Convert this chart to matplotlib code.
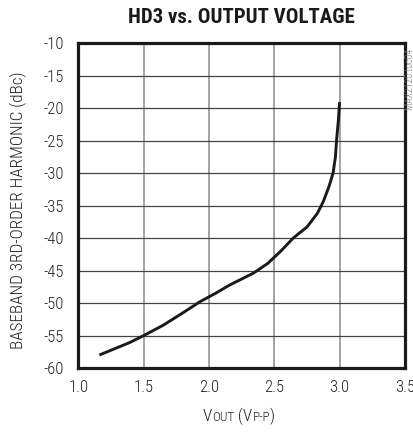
import matplotlib
matplotlib.use("Agg")
import matplotlib.pyplot as plt

FONT = ['Roboto Condensed', 'Archivo Narrow', 'DejaVu Sans']
TITLE_FONT = ['Roboto Condensed', 'Barlow Condensed', 'DejaVu Sans']
plt.rcParams['font.family'] = FONT
plt.rcParams['font.weight'] = 300

# data
vout = [1.16, 1.28, 1.39, 1.50, 1.65, 1.80, 1.93, 2.05, 2.16, 2.34, 2.45,
        2.55, 2.645, 2.75, 2.83, 2.875, 2.92, 2.95, 2.968, 2.977, 2.99, 3.0]
hd3 = [-58.0, -57.0, -56.1, -55.0, -53.4, -51.5, -49.8, -48.5, -47.2, -45.4, -43.9,
       -42.0, -40.0, -38.3, -36.2, -34.4, -32.0, -30.0, -27.5, -24.9, -22.0, -19.1]
xticks = [1.0, 1.5, 2.0, 2.5, 3.0, 3.5]
yticks = [-60, -55, -50, -45, -40, -35, -30, -25, -20, -15, -10]

fig = plt.figure(figsize=(4.14, 4.33), dpi=100)
ax = fig.add_axes([0.1896, 0.150, 0.7884, 0.7507])
ax.set_xlim(1.0, 3.5)
ax.set_ylim(-60, -10)
ax.set_xticks(xticks)
ax.set_yticks(yticks)
ax.set_xticklabels([f"{v:.1f}" for v in xticks])
ax.set_yticklabels([f"{v}" for v in yticks])
ax.tick_params(length=0, labelsize=12, colors='#222222')
ax.tick_params(axis='x', pad=8.5)
ax.tick_params(axis='y', pad=10.5)
for x in xticks[1:-1]:
    ax.axvline(x, color='#8a8a8a', lw=1.1, zorder=1)
for y in yticks[1:-1]:
    ax.axhline(y, color='#444444', lw=0.9, zorder=1)
for s in ax.spines.values():
    s.set_linewidth(2.3)
    s.set_color('#1a1a1a')

ax.plot(vout, hd3, color='#1a1a1a', lw=2.1, zorder=3, solid_capstyle='butt')

fig.text(241 / 414, 1 - 17.5 / 433, "HD3 vs. OUTPUT VOLTAGE", ha='center', va='center',
         fontsize=15, fontweight='heavy', color='#1a1a1a', family=TITLE_FONT)
fig.text(18 / 414, 1 - 210 / 433, "BASEBAND 3RD-ORDER HARMONIC (dBc)", rotation=90,
         ha='center', va='center', fontsize=12.3, color='#222222')
fig.text(410 / 414, 1 - 79 / 433, "MAX2120 toc04", rotation=90, ha='center', va='center',
         fontsize=7, color='#777777')

# x label with small-caps style subscripts
fig.canvas.draw()
r = fig.canvas.get_renderer()
parts = [("V", 12.3), ("OUT", 9.5), (" (V", 12.3), ("P-P", 9.5), (")", 12.3)]
texts = []
total = 0
for s, fs in parts:
    t = fig.text(0, 0, s, fontsize=fs, color='#222222', va='baseline', ha='left')
    w = t.get_window_extent(r).width
    texts.append((t, w))
    total += w
x0 = 239 - total / 2
ybase = 433 - 421
for t, w in texts:
    t.set_position((x0 / 414, ybase / 433))
    x0 += w

fig.savefig("out.png", dpi=100)
